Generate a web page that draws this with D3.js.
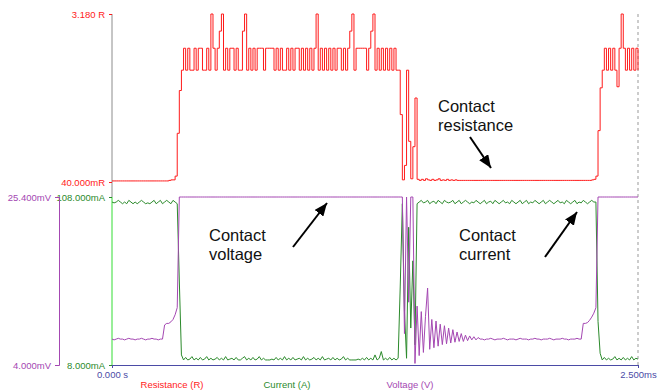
<!DOCTYPE html>
<html>
<head>
<meta charset="utf-8">
<script src="https://cdn.jsdelivr.net/npm/d3@7"></script>
<style>
  body { margin: 0; background: #fff; }
  text { font-family: "Liberation Sans", Arial, sans-serif; }
  .small { font-family: "Liberation Sans Narrow", "Arial Narrow", "Liberation Sans", sans-serif; }
</style>
</head>
<body>
<div id="scope"></div>
<script>
// sampled scope traces, one sample every 0.01 ms (251 samples = 2.5 ms)
const sampleMs = 0.01;

const resistanceR = [
  0.06,0.06,0.06,0.06,0.06,0.06,0.06,0.06,0.06,0.06,
  0.06,0.06,0.06,0.06,0.06,0.06,0.06,0.06,0.06,0.06,
  0.06,0.06,0.06,0.06,0.06,0.06,0.06,0.07,0.08,0.08,
  0.15,0.95,1.75,2.13,
  2.54,2.13,2.54,2.13,2.13,2.54,2.13,2.54,2.54,2.13,
  2.13,2.54,2.13,3.18,2.54,2.13,2.54,2.86,3.18,2.13,
  2.54,2.13,2.54,2.54,2.13,2.54,2.13,2.13,2.86,3.18,
  2.13,2.54,2.13,2.54,2.13,2.54,2.54,2.54,2.13,2.54,
  2.54,2.54,2.54,2.13,2.54,2.13,2.54,2.13,2.13,2.54,
  2.13,2.54,2.13,2.54,2.54,2.13,2.54,2.13,2.54,2.13,
  2.54,2.13,2.54,3.18,2.13,2.54,2.13,2.54,2.13,2.54,
  2.13,2.54,2.13,2.54,2.54,2.13,2.54,2.13,2.54,2.86,
  3.18,2.13,2.54,2.54,2.54,2.54,2.54,2.13,2.54,2.86,
  3.18,2.13,2.54,2.13,2.54,2.13,2.54,2.13,2.54,2.13,
  2.54,2.13,2.13,
  1.30,0.08,0.35,2.13,0.80,0.10,0.70,1.61,0.09,0.07,
  0.09,0.07,0.10,0.08,0.07,0.09,0.07,0.08,0.10,0.07,
  0.08,0.07,0.09,0.07,0.08,0.07,0.08,0.07,0.07,
  0.07,0.07,0.07,0.07,0.07,0.07,0.07,0.07,0.07,0.07,
  0.07,0.07,0.07,0.07,0.07,0.07,0.07,0.07,0.07,0.07,
  0.07,0.07,0.07,0.07,0.07,0.07,0.07,0.07,0.07,0.07,
  0.07,0.07,0.07,0.07,0.07,0.07,0.07,0.07,0.07,0.07,
  0.07,0.07,0.07,0.07,0.07,0.07,0.07,0.07,0.07,0.07,
  0.07,0.07,0.07,0.07,0.07,0.07,0.07,0.07,0.07,0.07,
  0.07,0.07,
  0.08,0.09,
  0.15,1.00,1.80,
  2.13,2.54,2.13,2.54,2.13,2.54,2.13,1.82,2.54,3.18,
  2.54,2.13,2.54,2.13,2.54,2.13,2.54,2.13
];

const currentMA = [
  105,104.5,105,106,105,104,105,104,106,105,
  104,105,104,105,106,105,104,104.5,104,105,
  106,104,105,106,104,105,106,105,104,106,
  105,104,
  58,14,
  11,12.5,11,11.5,13,11,12,11,12.5,11,
  11.5,13,11,12,11,11.5,12.5,11,12,11,
  13,11,11.5,12,11,12.5,11,11,12,13,
  11,12,11,12.5,11,11.5,13,11,12,11,
  11,11,11.5,11,12.5,11,12,11,13,11,
  12,11,12.5,11,11.5,12,11,13,11,12,
  11,11.5,12.5,11,12,11,13,11,11.5,12,
  11,12.5,11,12,11,11.5,13,11,12,11,
  11,11,11,11.5,11,12,11,12.5,11,12,
  11,14,11,12,16,11,12,11,12.5,11,
  12,11,
  12,55,104,40,12,90,30,70,20,104,
  105,106,104.5,105,106,104,105,105.5,104,106,
  105,104,106,105,104.5,105,106,104,105,106,
  104,105,106,105,104,105,104.5,106,105,104,
  105,106,104,105,105.5,104,106,105,104,105,
  106,104.5,105,104,106,105,104,105,106,104,
  105,106,104,105,104.5,106,105,104,105,106,
  104,105,106,105,104,105,106,104.5,105,104,
  106,105,104,105,106,104,105,104.5,106,105,
  104,105,106,105,
  105,34,15,
  11,12.5,11,12,11,11.5,13,11,12,11,
  12.5,11,12,11,13,11,12,11.5
];

const voltageMV = [
  7.3,7.2,7.3,7.4,7.3,7.3,7.2,7.3,7.4,7.3,
  7.3,7.2,7.3,7.3,7.4,7.3,7.2,7.3,7.3,7.4,
  7.3,7.3,7.2,7.3,7.3,
  9.1,9.3,9.3,9.5,9.8,10.4,11.3,
  25.4,25.4,25.4,25.4,25.4,25.4,25.4,25.4,25.4,25.4,
  25.4,25.4,25.4,25.4,25.4,25.4,25.4,25.4,25.4,25.4,
  25.4,25.4,25.4,25.4,25.4,25.4,25.4,25.4,25.4,25.4,
  25.4,25.4,25.4,25.4,25.4,25.4,25.4,25.4,25.4,25.4,
  25.4,25.4,25.4,25.4,25.4,25.4,25.4,25.4,25.4,25.4,
  25.4,25.4,25.4,25.4,25.4,25.4,25.4,25.4,25.4,25.4,
  25.4,25.4,25.4,25.4,25.4,25.4,25.4,25.4,25.4,25.4,
  25.4,25.4,25.4,25.4,25.4,25.4,25.4,25.4,25.4,25.4,
  25.4,25.4,25.4,25.4,25.4,25.4,25.4,25.4,25.4,25.4,
  25.4,25.4,25.4,25.4,25.4,25.4,25.4,25.4,25.4,25.4,
  25.4,25.4,25.4,25.4,25.4,25.4,25.4,
  8,25.4,12,25.4,25.4,4.2,
  11.5,5.2,10.8,5.6,10.2,13.8,6.0,9.8,6.2,9.6,
  6.4,9.2,6.6,9.0,6.7,8.7,6.8,8.5,6.9,8.2,
  7.0,8.0,7.0,7.8,7.1,7.7,7.2,7.6,7.2,7.5,
  7.3,
  7.3,7.2,7.3,7.3,7.4,7.3,7.2,7.3,7.3,7.3,
  7.4,7.3,7.2,7.3,7.3,7.3,7.2,7.3,7.4,7.3,
  7.3,7.3,7.2,7.3,7.3,7.4,7.3,7.3,7.2,7.3,
  7.3,7.3,7.4,7.3,7.2,7.3,7.3,7.3,7.4,7.3,
  7.3,7.2,7.3,7.3,7.3,7.4,7.3,7.3,
  9.3,9.3,9.4,9.7,10.1,10.6,11.3,
  25.4,25.4,25.4,25.4,25.4,25.4,25.4,25.4,25.4,25.4,
  25.4,25.4,25.4,25.4,25.4,25.4,25.4,25.4,25.4,25.4
];

// axis ticks
const timeTicks = [0, 2.5];
const timeTickLabels = ["0.000 s", "2.500ms"];
const resTicks = [0.04, 3.18];
const resTickLabels = ["40.000mR", "3.180 R"];
const curTicks = [8, 108];
const curTickLabels = ["8.000mA", "108.000mA"];
const voltTicks = [4, 25.4];
const voltTickLabels = ["4.000mV", "25.400mV"];

const legendNames = ["Resistance (R)", "Current (A)", "Voltage (V)"];

const svgWidth = 661;
const svgHeight = 391;

const colRes = "#ff1a1a";
const colCur = "#2b8a2b";
const colVolt = "#a447b2";
const colTime = "#4b4ba6";
const smallSize = "9.5px";

const svg = d3.select("#scope")
    .append("svg")
    .attr("width", svgWidth)
    .attr("height", svgHeight);

const x = d3.scaleLinear().domain([0, 2.5]).range([112, 638]);
const yRes = d3.scaleLinear().domain([0.04, 3.18]).range([182, 14]);
const yCur = d3.scaleLinear().domain([8, 108]).range([365, 197]);
const yVolt = d3.scaleLinear().domain([4, 25.4]).range([365, 197]);

// frame lines
svg.append("line")
    .attr("x1", 112).attr("x2", 112).attr("y1", 14).attr("y2", 197)
    .attr("stroke", "#8c8c8c");
svg.append("line")
    .attr("x1", 112).attr("x2", 112).attr("y1", 197).attr("y2", 365)
    .attr("stroke", "#33dd33");
svg.append("line")
    .attr("x1", 638).attr("x2", 638).attr("y1", 14).attr("y2", 365)
    .attr("stroke", "#999")
    .attr("stroke-dasharray", "3,3");

function styleAxis(g, color) {
    g.selectAll("text").attr("class", "small").attr("fill", color).style("font-size", smallSize);
    g.selectAll("line").attr("stroke", color);
    g.selectAll("path").attr("stroke", color);
}

const resAxis = svg.append("g")
    .attr("transform", "translate(112,0)")
    .call(d3.axisLeft(yRes).tickValues(resTicks)
        .tickFormat((d, i) => resTickLabels[i]).tickSize(3).tickPadding(4));
resAxis.select(".domain").remove();
styleAxis(resAxis, colRes);

const curAxis = svg.append("g")
    .attr("transform", "translate(112,0)")
    .call(d3.axisLeft(yCur).tickValues(curTicks)
        .tickFormat((d, i) => curTickLabels[i]).tickSize(3).tickPadding(4));
curAxis.select(".domain").remove();
styleAxis(curAxis, colCur);

const voltAxis = svg.append("g")
    .attr("transform", "translate(59,0)")
    .call(d3.axisLeft(yVolt).tickValues(voltTicks)
        .tickFormat((d, i) => voltTickLabels[i]).tickSize(4).tickPadding(4));
styleAxis(voltAxis, colVolt);

const timeAxis = svg.append("g")
    .attr("transform", "translate(0,365)")
    .call(d3.axisBottom(x).tickValues(timeTicks)
        .tickFormat((d, i) => timeTickLabels[i]).tickSize(3).tickSizeOuter(0).tickPadding(3));
styleAxis(timeAxis, colTime);

// traces
const lineRes = d3.line()
    .x((d, i) => x(i * sampleMs))
    .y(d => yRes(d))
    .curve(d3.curveStepAfter);

const lineCur = d3.line()
    .x((d, i) => x(i * sampleMs))
    .y(d => yCur(d));

const lineVolt = d3.line()
    .x((d, i) => x(i * sampleMs))
    .y(d => yVolt(d));

svg.append("path")
    .datum(resistanceR)
    .attr("d", lineRes)
    .attr("fill", "none")
    .attr("stroke", colRes)
    .attr("stroke-width", 1);

svg.append("path")
    .datum(currentMA)
    .attr("d", lineCur)
    .attr("fill", "none")
    .attr("stroke", colCur)
    .attr("stroke-width", 1);

svg.append("path")
    .datum(voltageMV)
    .attr("d", lineVolt)
    .attr("fill", "none")
    .attr("stroke", colVolt)
    .attr("stroke-width", 1);

// legend under the time axis
const legendX = [172, 287, 410];
const legendCol = [colRes, colCur, colVolt];
svg.selectAll(".legend")
    .data(legendNames)
    .enter().append("text")
    .attr("class", "small")
    .attr("x", (d, i) => legendX[i])
    .attr("y", 388)
    .attr("text-anchor", "middle")
    .attr("fill", (d, i) => legendCol[i])
    .style("font-size", smallSize)
    .text(d => d);

// annotations
svg.append("defs").append("marker")
    .attr("id", "arrow")
    .attr("viewBox", "0 0 12 10")
    .attr("refX", 12).attr("refY", 5)
    .attr("markerWidth", 13).attr("markerHeight", 11)
    .attr("markerUnits", "userSpaceOnUse")
    .attr("orient", "auto")
    .append("path")
    .attr("d", "M0,0L12,5L0,10Z")
    .attr("fill", "#000");

const notes = [
    {lines: ["Contact", "resistance"], tx: 438, ty: 112, a: [470, 137, 491, 168]},
    {lines: ["Contact", "voltage"], tx: 209, ty: 241, a: [293, 247, 327, 203]},
    {lines: ["Contact", "current"], tx: 459, ty: 241, a: [545, 257, 577, 212]}
];

notes.forEach(function (n) {
    const t = svg.append("text")
        .attr("x", n.tx).attr("y", n.ty)
        .attr("fill", "#111")
        .style("font-size", "16.5px");
    n.lines.forEach(function (s, k) {
        t.append("tspan").attr("x", n.tx).attr("dy", k === 0 ? 0 : 19).text(s);
    });
    svg.append("line")
        .attr("x1", n.a[0]).attr("y1", n.a[1])
        .attr("x2", n.a[2]).attr("y2", n.a[3])
        .attr("stroke", "#000")
        .attr("stroke-width", 2)
        .attr("marker-end", "url(#arrow)");
});
</script>
</body>
</html>
